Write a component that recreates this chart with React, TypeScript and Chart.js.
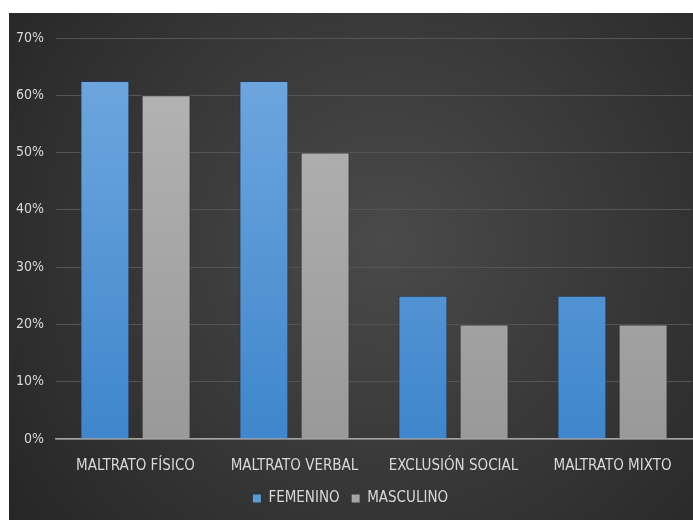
import React, { useEffect, useRef } from "react";
import { Chart, registerables } from "chart.js";

Chart.register(...registerables);

const categories = ["MALTRATO FÍSICO", "MALTRATO VERBAL", "EXCLUSIÓN SOCIAL", "MALTRATO MIXTO"];
const femenino = [0.625, 0.625, 0.25, 0.25];
const masculino = [0.6, 0.5, 0.2, 0.2];
const yMax = 0.7;
const yStep = 0.1;

const FONT = "'Liberation Sans Narrow', 'DejaVu Sans Condensed', 'Liberation Sans', sans-serif";

const bgPlugin = {
  id: "bgPlugin",
  beforeDraw(chart: any) {
    const { ctx, width, height } = chart;
    ctx.save();
    const g = ctx.createRadialGradient(width * 0.55, height * 0.45, 0, width * 0.55, height * 0.45, Math.max(width, height) * 0.72);
    g.addColorStop(0, "#4a4a4a");
    g.addColorStop(1, "#242424");
    ctx.fillStyle = g;
    ctx.fillRect(0, 0, width, height);
    ctx.restore();
  },
};

function grad(ctx: any, top: string, bottom: string) {
  const chart = ctx.chart;
  const area = chart.chartArea;
  if (!area) return top;
  const g = chart.ctx.createLinearGradient(0, area.top, 0, area.bottom);
  g.addColorStop(0, top);
  g.addColorStop(1, bottom);
  return g;
}

export default function App() {
  const ref = useRef<HTMLCanvasElement>(null);
  useEffect(() => {
    if (!ref.current) return;
    const chart = new Chart(ref.current, {
      type: "bar",
      data: {
        labels: categories,
        datasets: [
          {
            label: "FEMENINO",
            data: femenino,
            backgroundColor: (c: any) => grad(c, "#72a9e0", "#3f86cc"),
            borderColor: "rgba(35,55,85,0.9)",
            borderWidth: 1,
            categoryPercentage: 0.77,
            barPercentage: 0.8,
          },
          {
            label: "MASCULINO",
            data: masculino,
            backgroundColor: (c: any) => grad(c, "#b6b6b6", "#999999"),
            borderColor: "rgba(50,50,50,0.9)",
            borderWidth: 1,
            categoryPercentage: 0.77,
            barPercentage: 0.8,
          },
        ],
      },
      options: {
        animation: false,
        responsive: false,
        maintainAspectRatio: false,
        layout: { padding: { top: 25, right: 1, left: 0, bottom: 4 } },
        plugins: {
          tooltip: { enabled: false },
          legend: {
            position: "bottom",
            labels: {
              color: "#d9d9d9",
              font: { family: FONT, size: 15 },
              boxWidth: 8,
              boxHeight: 8,
              padding: 12,
              generateLabels: (ch: any) =>
                ch.data.datasets.map((d: any, i: number) => ({
                  text: d.label,
                  fillStyle: i === 0 ? "#5b9bd5" : "#a5a5a5",
                  strokeStyle: i === 0 ? "#5b9bd5" : "#a5a5a5",
                  lineWidth: 0,
                  fontColor: "#d9d9d9",
                  datasetIndex: i,
                })),
            },
          },
        },
        scales: {
          x: {
            grid: { display: false, drawTicks: false },
            border: { display: true, color: "#a6a6a6", width: 1.5 },
            ticks: { color: "#d9d9d9", font: { family: FONT, size: 15 }, padding: 18 },
            afterFit: (s: any) => { s.height = 40; },
          },
          y: {
            min: 0,
            max: yMax,
            grid: { color: "#555555", lineWidth: 1, drawTicks: false },
            border: { display: false },
            ticks: {
              stepSize: yStep,
              color: "#d9d9d9",
              font: { family: FONT, size: 14 },
              padding: 12,
              callback: (v: any) => Math.round(Number(v) * 100) + "%",
            },
            afterFit: (s: any) => { s.width = 47; },
          },
        },
      },
      plugins: [bgPlugin],
    });
    return () => chart.destroy();
  }, []);
  return (
    <div style={{ position: "fixed", left: 9, top: 13, width: 684, height: 507 }}>
      <canvas ref={ref} width={684} height={507} />
    </div>
  );
}
